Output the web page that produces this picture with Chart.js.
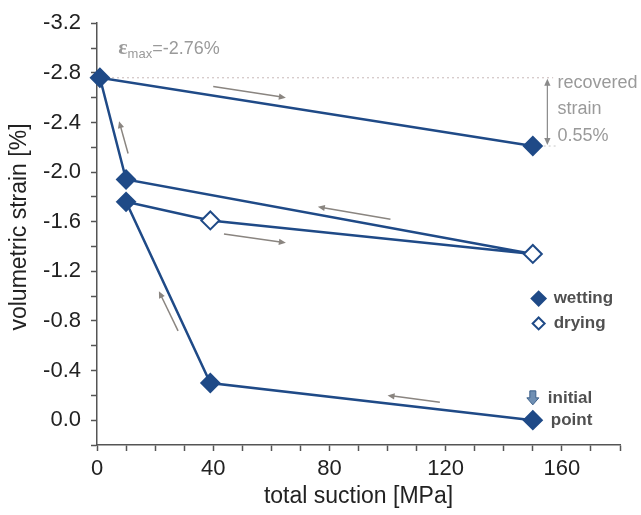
<!DOCTYPE html>
<html>
<head>
<meta charset="utf-8">
<script src="https://cdn.jsdelivr.net/npm/chart.js@4/dist/chart.umd.min.js"></script>
<style>
html,body{margin:0;padding:0;background:#fff;}
#wrap{width:641px;height:515px;position:relative;}
</style>
</head>
<body>
<div id="wrap"><canvas id="c" width="641" height="515"></canvas></div>
<script>
// ---- data ----
const suction = [150, 39, 10, 39, 150, 10, 1, 150];          // MPa, path order
const strain  = [0.00, -0.30, -1.76, -1.61, -1.34, -1.94, -2.76, -2.21]; // %
const phase   = ['wetting','wetting','wetting','drying','drying','wetting','wetting','wetting'];
const epsMax = -2.76;
const epsEnd = -2.21;
// direction arrows [x0,y0 -> x1,y1] in data units (head at x1,y1)
const arrowX0 = [40, 10.7, 101, 43.7, 27.9, 118];
const arrowY0 = [-2.69, -2.15, -1.62, -1.50, -0.72, -0.145];
const arrowX1 = [65, 7.6, 76, 65, 21.3, 100];
const arrowY1 = [-2.60, -2.41, -1.72, -1.43, -1.04, -0.20];

const BLUE = '#1f4a87';
const GRAY = '#9a9a9a';
const FONT = "'Liberation Sans', Arial, sans-serif";

function diamond(ctx, x, y, r, filled) {
  ctx.save();
  ctx.beginPath();
  ctx.moveTo(x, y - r); ctx.lineTo(x + r, y); ctx.lineTo(x, y + r); ctx.lineTo(x - r, y); ctx.closePath();
  ctx.fillStyle = filled ? BLUE : '#fff';
  ctx.fill();
  ctx.lineWidth = 2; ctx.strokeStyle = BLUE; ctx.stroke();
  ctx.restore();
}
function arrow(ctx, x0, y0, x1, y1, color, lw, head) {
  const a = Math.atan2(y1 - y0, x1 - x0);
  ctx.save();
  ctx.strokeStyle = color; ctx.fillStyle = color; ctx.lineWidth = lw;
  ctx.beginPath(); ctx.moveTo(x0, y0);
  ctx.lineTo(x1 - Math.cos(a) * head * 0.8, y1 - Math.sin(a) * head * 0.8); ctx.stroke();
  ctx.beginPath();
  ctx.moveTo(x1, y1);
  ctx.lineTo(x1 - head * Math.cos(a) + head * 0.45 * Math.sin(a), y1 - head * Math.sin(a) - head * 0.45 * Math.cos(a));
  ctx.lineTo(x1 - head * Math.cos(a) - head * 0.45 * Math.sin(a), y1 - head * Math.sin(a) + head * 0.45 * Math.cos(a));
  ctx.closePath(); ctx.fill();
  ctx.restore();
}

const annot = {
  id: 'annot',
  beforeDatasetsDraw(chart) {
    const {ctx, scales: {x, y}} = chart;
    ctx.save();
    ctx.strokeStyle = '#c8b8b8'; ctx.lineWidth = 1; ctx.setLineDash([2, 3]);
    ctx.beginPath();
    ctx.moveTo(x.getPixelForValue(0), y.getPixelForValue(epsMax));
    ctx.lineTo(x.getPixelForValue(157), y.getPixelForValue(epsMax));
    ctx.stroke();
    ctx.strokeStyle = '#c8c8c8';
    ctx.beginPath();
    ctx.moveTo(x.getPixelForValue(152), y.getPixelForValue(epsEnd));
    ctx.lineTo(x.getPixelForValue(158), y.getPixelForValue(epsEnd));
    ctx.stroke();
    ctx.restore();
    // y axis title
    ctx.save();
    ctx.translate(20, 227);
    ctx.rotate(-Math.PI / 2);
    ctx.fillStyle = '#222'; ctx.font = "23px " + FONT;
    ctx.textAlign = 'center'; ctx.textBaseline = 'middle';
    ctx.fillText('volumetric strain [%]', 0, 0);
    ctx.restore();
  },
  afterDatasetsDraw(chart) {
    const {ctx, scales: {x, y}} = chart;
    for (let i = 0; i < arrowX0.length; i++) {
      arrow(ctx, x.getPixelForValue(arrowX0[i]), y.getPixelForValue(arrowY0[i]),
                 x.getPixelForValue(arrowX1[i]), y.getPixelForValue(arrowY1[i]), '#8a8580', 1.5, 7);
    }
    // recovered strain double arrow
    const vx = x.getPixelForValue(155);
    const ya = y.getPixelForValue(epsMax), yb = y.getPixelForValue(epsEnd);
    arrow(ctx, vx, (ya + yb) / 2, vx, ya + 1, '#8a8a8a', 1.2, 7);
    arrow(ctx, vx, (ya + yb) / 2, vx, yb - 1, '#8a8a8a', 1.2, 7);

    ctx.save();
    ctx.fillStyle = GRAY; ctx.textBaseline = 'alphabetic'; ctx.textAlign = 'left';
    // epsilon max label
    ctx.font = "bold 22px 'Liberation Serif', serif";
    const ex = x.getPixelForValue(7.3), ey = y.getPixelForValue(-2.95);
    ctx.fillText('\u03B5', ex, ey);
    const ew = ctx.measureText('\u03B5').width;
    ctx.font = "13px " + FONT;
    ctx.fillText('max', ex + ew, ey + 4);
    const mw = ctx.measureText('max').width;
    ctx.font = "18px " + FONT;
    ctx.fillText('=-2.76%', ex + ew + mw, ey);
    // recovered strain text
    ctx.textBaseline = 'middle';
    ctx.font = "18px " + FONT;
    const tx = x.getPixelForValue(158.5);
    ctx.fillText('recovered', tx, y.getPixelForValue(-2.72));
    ctx.fillText('strain', tx, y.getPixelForValue(-2.51));
    ctx.fillText('0.55%', tx, y.getPixelForValue(-2.29));
    // legend
    ctx.font = "bold 17px " + FONT;
    const lx = x.getPixelForValue(152);
    const ly1 = y.getPixelForValue(-0.98), ly2 = y.getPixelForValue(-0.78);
    diamond(ctx, lx, ly1, 7, true);
    diamond(ctx, lx, ly2, 6, false);
    ctx.fillStyle = '#505050';
    ctx.fillText('wetting', lx + 15, ly1);
    ctx.fillText('drying', lx + 15, ly2);
    // initial point
    const ix = x.getPixelForValue(150);
    const iy = y.getPixelForValue(-0.18);
    ctx.fillText('initial', ix + 15, iy);
    ctx.fillText('point', ix + 18, y.getPixelForValue(0.0));
    ctx.beginPath();
    ctx.moveTo(ix - 3, iy - 7); ctx.lineTo(ix + 3, iy - 7); ctx.lineTo(ix + 3, iy);
    ctx.lineTo(ix + 6, iy); ctx.lineTo(ix, iy + 7); ctx.lineTo(ix - 6, iy); ctx.lineTo(ix - 3, iy); ctx.closePath();
    ctx.fillStyle = '#6f8fb3'; ctx.fill();
    ctx.strokeStyle = '#3b5f8a'; ctx.lineWidth = 1; ctx.stroke();
    ctx.restore();
  }
};

const points = suction.map((s, i) => ({x: s, y: strain[i]}));

new Chart(document.getElementById('c'), {
  type: 'scatter',
  data: {
    datasets: [{
      data: points,
      showLine: true,
      borderColor: BLUE,
      borderWidth: 2.5,
      pointStyle: 'rectRot',
      pointRadius: 9,
      pointBorderWidth: 2,
      pointBorderColor: BLUE,
      pointBackgroundColor: phase.map(p => p === 'wetting' ? BLUE : '#ffffff'),
      clip: false,
      tension: 0
    }]
  },
  options: {
    responsive: false,
    animation: false,
    events: [],
    layout: {padding: {left: 0, right: 21, top: 22, bottom: 0}},
    plugins: {legend: {display: false}, tooltip: {enabled: false}},
    scales: {
      x: {
        type: 'linear', min: 0, max: 180,
        afterFit(s) { s.height = 70; },
        border: {color: '#555', width: 1.5},
        grid: {drawOnChartArea: false, drawTicks: true, tickLength: 6, color: '#555', tickWidth: 1.5},
        ticks: {stepSize: 10, autoSkip: false, maxRotation: 0, padding: 5, color: '#222',
          font: {family: FONT, size: 22},
          callback: v => (Math.round(v) % 40 === 0 ? String(v) : '')},
        title: {display: true, text: 'total suction [MPa]', color: '#222', font: {family: FONT, size: 23}, padding: {top: 0, bottom: 5}}
      },
      y: {
        type: 'linear', min: -3.2, max: 0.2, reverse: true,
        afterFit(s) { s.width = 97; },
        border: {color: '#555', width: 1.5},
        grid: {drawOnChartArea: false, drawTicks: true, tickLength: 6, color: '#555', tickWidth: 1.5},
        ticks: {stepSize: 0.2, autoSkip: false, padding: 10, color: '#222',
          font: {family: FONT, size: 22},
          callback: v => (Math.round(v * 10) % 4 === 0 ? (Math.abs(v) < 1e-9 ? '0.0' : v.toFixed(1)) : '')},
        title: {display: false}
      }
    }
  },
  plugins: [annot]
});
</script>
</body>
</html>
